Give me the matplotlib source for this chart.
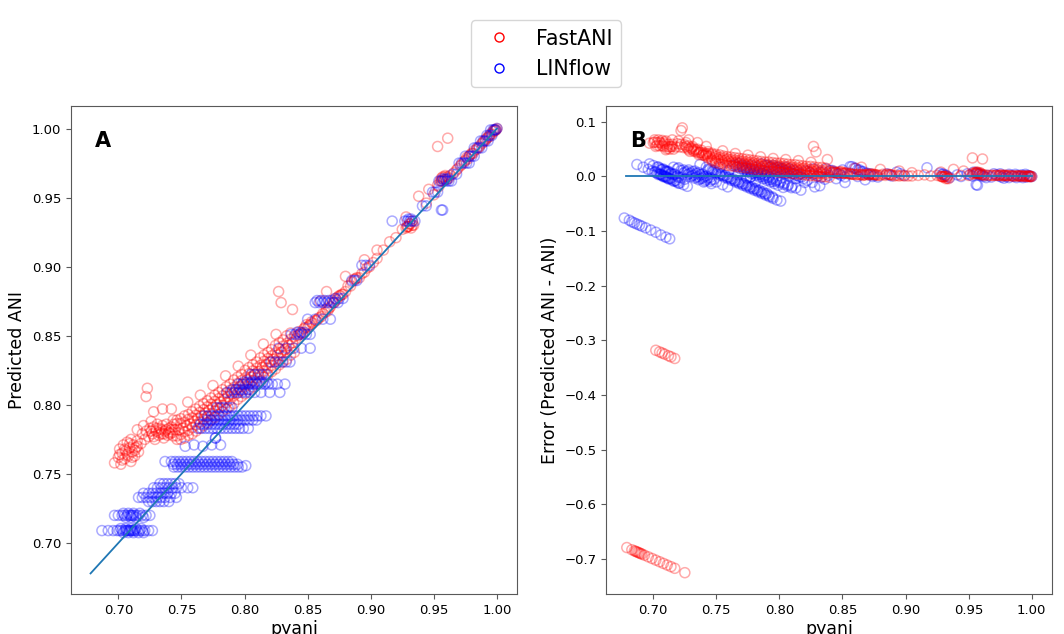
import matplotlib
matplotlib.use('Agg')
import matplotlib.pyplot as plt
from matplotlib.lines import Line2D
import numpy as np

# ---------------- data ----------------
fastani_pyani = [
    # lower-left bulb
    0.697, 0.700, 0.701, 0.702, 0.703, 0.704, 0.705, 0.706, 0.707, 0.708, 0.709, 0.710, 0.710, 0.711, 0.712, 0.713, 0.714, 0.715, 0.716,
    0.701, 0.703, 0.705, 0.707, 0.709, 0.711, 0.713, 0.715,
    # cluster 0.72-0.745
    0.718, 0.719, 0.720, 0.721, 0.722, 0.722, 0.723, 0.724, 0.725, 0.726, 0.727, 0.728, 0.729, 0.730, 0.731, 0.732, 0.733, 0.734, 0.735,
    0.736, 0.737, 0.738, 0.739, 0.740, 0.741, 0.742, 0.743, 0.744,
    0.726, 0.728, 0.730, 0.732, 0.734, 0.736, 0.738, 0.740, 0.742,
    0.715, 0.728, 0.735, 0.742,
    # dense band, middle
    0.745, 0.748, 0.751, 0.754, 0.757, 0.760, 0.763, 0.766, 0.769, 0.772, 0.775, 0.778, 0.781, 0.784, 0.787, 0.790,
    0.793, 0.796, 0.799, 0.802, 0.805, 0.808, 0.811, 0.814, 0.817, 0.820, 0.823, 0.826, 0.829, 0.832, 0.835, 0.838,
    # dense band, lower
    0.7465, 0.7495, 0.7525, 0.7555, 0.7585, 0.7615, 0.7645, 0.7675, 0.7705, 0.7735, 0.7765, 0.7795, 0.7825, 0.7855, 0.7885, 0.7915,
    0.7945, 0.7975, 0.8005, 0.8035, 0.8065, 0.8095, 0.8125, 0.8155, 0.8185, 0.8215, 0.8245, 0.8275, 0.8305, 0.8335, 0.8365, 0.8395,
    # dense band, upper
    0.7435, 0.7465, 0.7495, 0.7525, 0.7555, 0.7585, 0.7615, 0.7645, 0.7675, 0.7705, 0.7735, 0.7765, 0.7795, 0.7825, 0.7855, 0.7885,
    0.7915, 0.7945, 0.7975, 0.8005, 0.8035, 0.8065, 0.8095, 0.8125, 0.8155, 0.8185, 0.8215, 0.8245, 0.8275, 0.8305, 0.8335, 0.8365,
    # dense band, between rows
    0.7465, 0.7495, 0.7525, 0.7555, 0.7585, 0.7615, 0.7645, 0.7675, 0.7705, 0.7735, 0.7765, 0.7795, 0.7825, 0.7855, 0.7885, 0.7915,
    0.7945, 0.7975, 0.8005, 0.8035, 0.8065, 0.8095, 0.8125, 0.8155, 0.8185, 0.8215, 0.8245, 0.8275, 0.8305, 0.8335, 0.8365, 0.8395,
    0.7435, 0.7465, 0.7495, 0.7525, 0.7555, 0.7585, 0.7615, 0.7645, 0.7675, 0.7705, 0.7735, 0.7765, 0.7795, 0.7825, 0.7855, 0.7885,
    0.7915, 0.7945, 0.7975, 0.8005, 0.8035, 0.8065, 0.8095, 0.8125, 0.8155, 0.8185, 0.8215, 0.8245, 0.8275, 0.8305, 0.8335, 0.8365,
    # faint above the band
    0.755, 0.765, 0.775, 0.785, 0.795, 0.805, 0.815, 0.825, 0.827, 0.829, 0.838,
    # 0.84 - 0.90
    0.841, 0.844, 0.846, 0.848, 0.849, 0.851, 0.853, 0.856, 0.859, 0.862, 0.865, 0.868, 0.870, 0.872, 0.874, 0.876,
    0.878, 0.882, 0.885, 0.887, 0.889, 0.893, 0.897, 0.902,
    0.843, 0.847, 0.852, 0.858, 0.866, 0.871, 0.875, 0.888,
    0.842, 0.845, 0.850, 0.854, 0.857, 0.861, 0.864, 0.867, 0.873, 0.877, 0.880, 0.884, 0.891, 0.895, 0.899, 0.905,
    0.860, 0.865, 0.880, 0.895, 0.905, 0.910, 0.915, 0.920,
    # 0.92 - 1.00
    0.925, 0.928, 0.930, 0.931, 0.932, 0.934, 0.944, 0.950, 0.953, 0.955, 0.956, 0.957, 0.958, 0.959, 0.960, 0.962,
    0.966, 0.969, 0.972, 0.975, 0.976, 0.978, 0.980, 0.982, 0.984, 0.986, 0.988, 0.990, 0.992, 0.994, 0.996, 0.997,
    0.998, 0.999, 1.000,
    0.929, 0.933, 0.956, 0.959, 0.977, 0.979, 0.993, 0.998,
    0.929, 0.931, 0.933, 0.954, 0.957, 0.961, 0.963, 0.968, 0.971, 0.974, 0.981, 0.985, 0.989, 0.991, 0.995, 0.999,
    0.928, 0.938, 0.946, 0.953, 0.961,
    # failed predictions (only visible in panel B)
    0.702, 0.705, 0.707, 0.709, 0.712, 0.714, 0.717,
    0.679, 0.683, 0.685, 0.686, 0.687, 0.688, 0.689, 0.690, 0.691, 0.693, 0.696, 0.699, 0.702, 0.705, 0.708, 0.711,
    0.714, 0.717, 0.725,
]
fastani_pred = [
    0.758, 0.762, 0.768, 0.757, 0.765, 0.771, 0.761, 0.767, 0.773, 0.763, 0.769, 0.759, 0.775, 0.766, 0.771, 0.763, 0.769, 0.774, 0.766,
    0.764, 0.760, 0.768, 0.764, 0.772, 0.762, 0.767, 0.770,
    0.772, 0.779, 0.785, 0.775, 0.781, 0.806, 0.812, 0.777, 0.783, 0.788, 0.779, 0.784, 0.775, 0.781, 0.786, 0.778, 0.783, 0.779, 0.785,
    0.776, 0.781, 0.786, 0.778, 0.783, 0.779, 0.784, 0.780, 0.786,
    0.781, 0.777, 0.783, 0.780, 0.782, 0.779, 0.782, 0.780, 0.782,
    0.782, 0.795, 0.797, 0.797,
    0.782, 0.782, 0.783, 0.785, 0.786, 0.788, 0.790, 0.792, 0.794, 0.796, 0.798, 0.800, 0.802, 0.804, 0.806, 0.808,
    0.811, 0.813, 0.815, 0.818, 0.820, 0.822, 0.824, 0.827, 0.829, 0.831, 0.833, 0.836, 0.838, 0.840, 0.843, 0.845,
    0.775, 0.775, 0.776, 0.778, 0.779, 0.781, 0.783, 0.785, 0.787, 0.789, 0.791, 0.793, 0.795, 0.797, 0.799, 0.801,
    0.804, 0.806, 0.808, 0.811, 0.813, 0.815, 0.817, 0.820, 0.822, 0.824, 0.826, 0.829, 0.831, 0.833, 0.836, 0.838,
    0.789, 0.789, 0.790, 0.792, 0.793, 0.795, 0.797, 0.799, 0.801, 0.803, 0.805, 0.807, 0.809, 0.811, 0.813, 0.815,
    0.818, 0.820, 0.822, 0.825, 0.827, 0.829, 0.831, 0.834, 0.836, 0.838, 0.840, 0.843, 0.845, 0.847, 0.850, 0.852,
    0.7865, 0.7865, 0.7875, 0.7895, 0.7905, 0.7925, 0.7945, 0.7965, 0.7985, 0.8005, 0.8025, 0.8045, 0.8065, 0.8085, 0.8105, 0.8125,
    0.8155, 0.8175, 0.8195, 0.8225, 0.8245, 0.8265, 0.8285, 0.8315, 0.8335, 0.8355, 0.8375, 0.8405, 0.8425, 0.8445, 0.8475, 0.8495,
    0.7775, 0.7775, 0.7785, 0.7805, 0.7815, 0.7835, 0.7855, 0.7875, 0.7895, 0.7915, 0.7935, 0.7955, 0.7975, 0.7995, 0.8015, 0.8035,
    0.8065, 0.8085, 0.8105, 0.8135, 0.8155, 0.8175, 0.8195, 0.8225, 0.8245, 0.8265, 0.8285, 0.8315, 0.8335, 0.8355, 0.8385, 0.8405,
    0.802, 0.807, 0.814, 0.821, 0.828, 0.836, 0.844, 0.851, 0.882, 0.874, 0.869,
    0.848, 0.851, 0.852, 0.856, 0.858, 0.857, 0.860, 0.861, 0.863, 0.866, 0.869, 0.871, 0.874, 0.877, 0.878, 0.879,
    0.880, 0.886, 0.889, 0.891, 0.892, 0.895, 0.899, 0.903,
    0.853, 0.855, 0.858, 0.862, 0.868, 0.874, 0.879, 0.891,
    0.850, 0.852, 0.856, 0.859, 0.861, 0.864, 0.867, 0.870, 0.876, 0.880, 0.882, 0.886, 0.892, 0.896, 0.900, 0.906,
    0.875, 0.882, 0.893, 0.905, 0.912, 0.912, 0.918, 0.921,
    0.927, 0.928, 0.929, 0.931, 0.928, 0.930, 0.946, 0.952, 0.959, 0.962, 0.964, 0.965, 0.963, 0.966, 0.963, 0.964,
    0.968, 0.971, 0.974, 0.977, 0.979, 0.980, 0.982, 0.984, 0.985, 0.987, 0.989, 0.991, 0.993, 0.994, 0.996, 0.998,
    0.999, 0.999, 1.000,
    0.929, 0.930, 0.962, 0.965, 0.978, 0.981, 0.994, 0.998,
    0.929, 0.931, 0.933, 0.958, 0.962, 0.965, 0.966, 0.970, 0.973, 0.976, 0.982, 0.986, 0.990, 0.992, 0.996, 0.999,
    0.936, 0.951, 0.956, 0.987, 0.993,
    0.384, 0.384, 0.384, 0.384, 0.384, 0.384, 0.384,
    0.000, 0.000, 0.000, 0.000, 0.000, 0.000, 0.000, 0.000, 0.000, 0.000, 0.000, 0.000, 0.000, 0.000, 0.000, 0.000,
    0.000, 0.000, 0.000,
]

linflow_pyani = [
    # level 0.709
    0.687, 0.692, 0.696, 0.699, 0.701, 0.703, 0.705, 0.706, 0.707, 0.708, 0.709, 0.710, 0.711, 0.712, 0.713, 0.715, 0.717, 0.719, 0.721, 0.724, 0.727,
    0.702, 0.704, 0.706, 0.708, 0.710, 0.712, 0.714, 0.716, 0.718, 0.720,
    # level 0.720
    0.697, 0.700, 0.703, 0.705, 0.707, 0.709, 0.710, 0.711, 0.712, 0.714, 0.716, 0.719, 0.722, 0.725,
    0.704, 0.706, 0.708, 0.710, 0.712, 0.714, 0.717, 0.720,
    # cluster 0.730 - 0.743
    0.724, 0.727, 0.730, 0.733, 0.736, 0.740,
    0.716, 0.719, 0.722, 0.725, 0.728, 0.731, 0.734, 0.737, 0.741, 0.746,
    0.720, 0.724, 0.727, 0.730, 0.733, 0.736, 0.739, 0.742, 0.745,
    0.728, 0.731, 0.734, 0.737, 0.740, 0.743, 0.746, 0.750, 0.755, 0.759,
    0.733, 0.736, 0.739, 0.742, 0.745, 0.748,
    # level 0.757
    0.737, 0.742, 0.745, 0.748, 0.751, 0.754, 0.757, 0.760, 0.763, 0.766, 0.769, 0.772, 0.775, 0.778, 0.781, 0.784, 0.787, 0.790,
    0.744, 0.747, 0.750, 0.753, 0.756, 0.759, 0.762, 0.765, 0.768, 0.771, 0.774, 0.777, 0.780, 0.783, 0.786, 0.789, 0.792, 0.795, 0.798, 0.801,
    0.7435, 0.7465, 0.7495, 0.7525, 0.7555, 0.7585, 0.7615, 0.7645, 0.7675, 0.7705, 0.7735, 0.7765, 0.7795, 0.7825, 0.7855, 0.7885, 0.7915, 0.7945,
    0.753, 0.760, 0.767, 0.774, 0.777, 0.777, 0.781,
    # levels 0.783 / 0.786 / 0.789 / 0.792 / 0.798
    0.763, 0.766, 0.769, 0.772, 0.775, 0.778, 0.781, 0.784, 0.787, 0.790, 0.793, 0.796, 0.799, 0.803,
    0.765, 0.768, 0.771, 0.774, 0.777, 0.780, 0.783, 0.786, 0.789, 0.792, 0.795,
    0.7705, 0.7735, 0.7765, 0.7795, 0.7825, 0.7855, 0.7885, 0.7915, 0.7945, 0.7975, 0.8005, 0.8035, 0.8065, 0.8095,
    0.768, 0.771, 0.774, 0.777, 0.780, 0.783, 0.786, 0.789, 0.792, 0.795, 0.798, 0.801, 0.804, 0.807, 0.810, 0.813, 0.817,
    0.778, 0.781, 0.784, 0.787, 0.790,
    # levels 0.809 - 0.851
    0.786, 0.789, 0.792, 0.795, 0.798, 0.801, 0.804, 0.808, 0.813, 0.820, 0.828,
    0.7905, 0.7935, 0.7965, 0.7995, 0.8025, 0.8055,
    0.795, 0.798, 0.801, 0.804, 0.807, 0.810, 0.813, 0.816, 0.819, 0.822, 0.826, 0.832,
    0.7995, 0.8025, 0.8055, 0.8085, 0.8115, 0.8145, 0.8175,
    0.805, 0.808, 0.811, 0.814, 0.817,
    0.821, 0.824, 0.827, 0.830, 0.833, 0.836,
    0.827, 0.833, 0.839, 0.845, 0.852,
    0.837, 0.840, 0.843, 0.846, 0.849, 0.852, 0.8415, 0.8445, 0.8475,
    # levels 0.862 - 0.901
    0.850, 0.856, 0.862, 0.868,
    0.856, 0.859, 0.862, 0.865, 0.868, 0.871, 0.874, 0.8575, 0.8605, 0.8635, 0.8665, 0.8695,
    0.872, 0.875, 0.878,
    0.885, 0.887, 0.889,
    0.893, 0.896, 0.899,
    # levels 0.933 - 1.00
    0.917, 0.927, 0.929, 0.931, 0.933, 0.935, 0.930, 0.932,
    0.956, 0.957,
    0.941, 0.944,
    0.949, 0.951, 0.953,
    0.954, 0.956, 0.958, 0.960, 0.962, 0.964, 0.957, 0.959, 0.961,
    0.965, 0.968,
    0.970, 0.972, 0.974, 0.976, 0.978,
    0.975, 0.978, 0.980, 0.982,
    0.982, 0.984, 0.986, 0.988,
    0.987, 0.989, 0.991, 0.993,
    0.992, 0.994, 0.996,
    0.995, 0.997, 0.998, 0.999, 1.000,
    # predictions near 0.60 (only visible in panel B)
    0.677, 0.681, 0.683, 0.685, 0.687, 0.689, 0.691, 0.694, 0.698, 0.702, 0.706, 0.710, 0.713,
]
linflow_pred = [
    0.709, 0.709, 0.709, 0.709, 0.709, 0.709, 0.709, 0.709, 0.709, 0.709, 0.709, 0.709, 0.709, 0.709, 0.709, 0.709, 0.709, 0.709, 0.709, 0.709, 0.709,
    0.7105, 0.7075, 0.7105, 0.7075, 0.7105, 0.7075, 0.7105, 0.7075, 0.7105, 0.7075,
    0.720, 0.720, 0.720, 0.720, 0.720, 0.720, 0.720, 0.720, 0.720, 0.720, 0.720, 0.720, 0.720, 0.720,
    0.7215, 0.7185, 0.7215, 0.7185, 0.7215, 0.7185, 0.7215, 0.7185,
    0.730, 0.730, 0.730, 0.730, 0.730, 0.730,
    0.733, 0.733, 0.733, 0.733, 0.733, 0.733, 0.733, 0.733, 0.733, 0.733,
    0.736, 0.736, 0.736, 0.736, 0.736, 0.736, 0.736, 0.736, 0.736,
    0.740, 0.740, 0.740, 0.740, 0.740, 0.740, 0.740, 0.740, 0.740, 0.740,
    0.743, 0.743, 0.743, 0.743, 0.743, 0.743,
    0.759, 0.759, 0.759, 0.759, 0.759, 0.759, 0.759, 0.759, 0.759, 0.759, 0.759, 0.759, 0.759, 0.759, 0.759, 0.759, 0.759, 0.759,
    0.755, 0.755, 0.755, 0.755, 0.755, 0.755, 0.755, 0.755, 0.755, 0.755, 0.755, 0.755, 0.755, 0.755, 0.755, 0.755, 0.755, 0.755, 0.755, 0.756,
    0.757, 0.757, 0.757, 0.757, 0.757, 0.757, 0.757, 0.757, 0.757, 0.757, 0.757, 0.757, 0.757, 0.757, 0.757, 0.757, 0.757, 0.757,
    0.770, 0.771, 0.770, 0.771, 0.776, 0.776, 0.771,
    0.783, 0.783, 0.783, 0.783, 0.783, 0.783, 0.783, 0.783, 0.783, 0.783, 0.783, 0.783, 0.783, 0.783,
    0.786, 0.786, 0.786, 0.786, 0.786, 0.786, 0.786, 0.786, 0.786, 0.786, 0.786,
    0.789, 0.789, 0.789, 0.789, 0.789, 0.789, 0.789, 0.789, 0.789, 0.789, 0.789, 0.789, 0.789, 0.789,
    0.792, 0.792, 0.792, 0.792, 0.792, 0.792, 0.792, 0.792, 0.792, 0.792, 0.792, 0.792, 0.792, 0.792, 0.792, 0.792, 0.792,
    0.798, 0.798, 0.798, 0.798, 0.798,
    0.809, 0.809, 0.809, 0.809, 0.809, 0.809, 0.809, 0.809, 0.809, 0.809, 0.809,
    0.811, 0.811, 0.811, 0.811, 0.811, 0.811,
    0.815, 0.815, 0.815, 0.815, 0.815, 0.815, 0.815, 0.815, 0.815, 0.815, 0.815, 0.815,
    0.8165, 0.8165, 0.8165, 0.8165, 0.8165, 0.8165, 0.8165,
    0.822, 0.822, 0.822, 0.822, 0.822,
    0.831, 0.831, 0.831, 0.831, 0.831, 0.831,
    0.841, 0.841, 0.841, 0.841, 0.841,
    0.851, 0.851, 0.851, 0.851, 0.851, 0.851, 0.8525, 0.8525, 0.8525,
    0.862, 0.862, 0.862, 0.862,
    0.874, 0.874, 0.874, 0.874, 0.874, 0.874, 0.874, 0.8755, 0.8755, 0.8755, 0.8755, 0.8755,
    0.877, 0.877, 0.877,
    0.890, 0.890, 0.890,
    0.901, 0.901, 0.901,
    0.933, 0.933, 0.933, 0.933, 0.933, 0.933, 0.9345, 0.9345,
    0.941, 0.941,
    0.944, 0.944,
    0.954, 0.954, 0.954,
    0.962, 0.962, 0.962, 0.962, 0.962, 0.962, 0.9635, 0.9635, 0.9635,
    0.967, 0.967,
    0.975, 0.975, 0.975, 0.975, 0.975,
    0.980, 0.980, 0.980, 0.980,
    0.986, 0.986, 0.986, 0.986,
    0.991, 0.991, 0.991, 0.991,
    0.995, 0.995, 0.995,
    0.999, 0.999, 0.999, 0.999, 1.000,
    0.601, 0.601, 0.600, 0.600, 0.600, 0.600, 0.600, 0.600, 0.600, 0.600, 0.599, 0.599, 0.599,
]

series_names = ['FastANI', 'LINflow']
series_colors = ['#ff0000', '#0000ff']
ref_line_x = [0.678, 1.0]
ticks_x = [0.70, 0.75, 0.80, 0.85, 0.90, 0.95, 1.00]
ticks_yA = [0.70, 0.75, 0.80, 0.85, 0.90, 0.95, 1.00]
ticks_yB = [-0.7, -0.6, -0.5, -0.4, -0.3, -0.2, -0.1, 0.0, 0.1]
panel_labels = ['A', 'B']
x_label = 'pyani'
y_label_A = 'Predicted ANI'
y_label_B = 'Error (Predicted ANI - ANI)'

# ---------------- figure ----------------
W, H = 1064, 634
fig = plt.figure(figsize=(W / 100, H / 100), dpi=100)
axA = fig.add_axes([71 / W, 1 - 594 / H, 446 / W, 488 / H])
axB = fig.add_axes([606 / W, 1 - 594 / H, 446 / W, 488 / H])

fx = np.array(fastani_pyani)
fy = np.array(fastani_pred)
lx = np.array(linflow_pyani)
ly = np.array(linflow_pred)

kw = dict(s=52, facecolors='none', linewidths=1.1, alpha=0.33)
axA.scatter(fx, fy, edgecolors=series_colors[0], **kw)
axA.scatter(lx, ly, edgecolors=series_colors[1], **kw)
axA.plot(ref_line_x, ref_line_x, color='#1f77b4', lw=1.3)

axB.scatter(lx, ly - lx, edgecolors=series_colors[1], **kw)
axB.scatter(fx, fy - fx, edgecolors=series_colors[0], **kw)
axB.plot(ref_line_x, [0, 0], color='#1f77b4', lw=1.3)

axA.set_xlim(0.6625, 1.0159)
axA.set_ylim(0.6631, 1.0163)
axB.set_xlim(0.6625, 1.0161)
axB.set_ylim(-0.764, 0.129)

for ax in (axA, axB):
    ax.set_xticks(ticks_x)
    ax.set_xticklabels(['%.2f' % t for t in ticks_x])
    ax.tick_params(labelsize=9.5, color='0.35', length=3.5)
    for sp in ax.spines.values():
        sp.set_color('0.35')
    ax.set_xlabel(x_label, fontsize=12.5, labelpad=2)

axA.set_yticks(ticks_yA)
axA.set_yticklabels(['%.2f' % t for t in ticks_yA])
axB.set_yticks(ticks_yB)
axB.set_yticklabels([('%.1f' % t).replace('-', '\u2212') for t in ticks_yB])
axA.set_ylabel(y_label_A, fontsize=12.5)
axB.set_ylabel(y_label_B, fontsize=12.5)

axA.text(0.054, 0.917, panel_labels[0], transform=axA.transAxes, fontsize=15, fontweight='bold', va='baseline')
axB.text(0.054, 0.917, panel_labels[1], transform=axB.transAxes, fontsize=15, fontweight='bold', va='baseline')

handles = [Line2D([], [], ls='', marker='o', markersize=6.5, markerfacecolor='none',
                  markeredgecolor=c, markeredgewidth=1.0) for c in series_colors]
fig.legend(handles, series_names, loc='upper center', bbox_to_anchor=(0.513, 0.984), fontsize=14.8)

fig.savefig('out.png', dpi=100)
